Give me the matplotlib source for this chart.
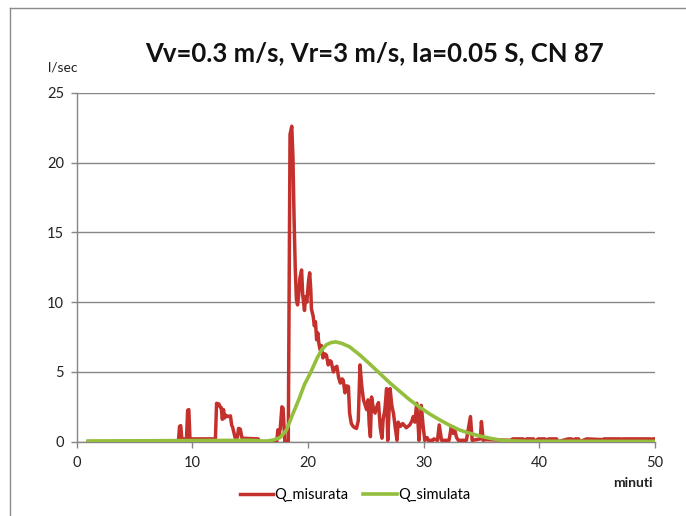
import matplotlib
matplotlib.use("Agg")
import matplotlib.pyplot as plt
from matplotlib.lines import Line2D

plt.rcParams['font.family'] = ['Lato', 'DejaVu Sans']

# Measured discharge (minutes, l/sec)
t_mis = [1.0, 8.8, 8.9, 9.0, 9.1, 9.5, 9.6, 9.7, 9.8, 12.0, 12.1, 12.3, 12.4, 12.5,
         12.6, 12.7, 12.8, 12.9, 13.1, 13.3, 13.4, 13.5, 13.7, 13.9, 14.0, 14.15,
         14.3, 15.7, 15.75, 17.3, 17.4, 17.5, 17.6, 17.75, 17.85, 18.0, 18.3, 18.45,
         18.6, 18.7, 18.8, 18.9, 19.0, 19.1, 19.2, 19.3, 19.45, 19.55, 19.7, 19.8,
         19.9, 20.05, 20.15, 20.25, 20.3, 20.45, 20.55, 20.65, 20.75, 20.85, 20.95,
         21.05, 21.15, 21.3, 21.45, 21.6, 21.75, 21.9, 22.0, 22.2, 22.35, 22.5, 22.65,
         22.8, 22.95, 23.05, 23.2, 23.35, 23.5, 23.6, 23.75, 23.9, 24.05, 24.2, 24.35,
         24.5, 24.65, 24.8, 24.95, 25.07, 25.2, 25.3, 25.4, 25.5, 25.65, 25.8, 25.95,
         26.1, 26.25, 26.4, 26.5, 26.65, 26.8, 26.9, 27.0, 27.1, 27.25, 27.4, 27.55,
         27.7, 27.8, 28.0, 28.2, 28.5, 28.8, 29.0, 29.1, 29.25, 29.4, 29.5, 29.6,
         29.8, 29.95, 30.1, 30.3, 30.4, 30.8, 30.9, 31.2, 31.35, 31.55, 32.2, 32.4,
         32.55, 32.7, 32.85, 33.0, 33.7, 34.05, 34.2, 34.9, 35.0, 35.15, 35.3, 37.6,
         37.7, 38.6, 38.7, 38.9, 39.5, 39.6, 39.9, 40.5, 40.6, 40.8, 41.5, 41.6, 42.5,
         42.8, 42.9, 43.1, 43.4, 43.5, 44.1, 45.5, 45.6, 47.0, 47.1, 47.2, 49.6, 49.7,
         49.8, 50.0]
q_mis = [0.0, 0.0, 1.1, 1.15, 0.2, 0.2, 2.25, 2.3, 0.2, 0.2, 2.75, 2.7, 2.5, 2.45,
         1.6, 2.3, 1.7, 1.9, 1.8, 1.85, 1.2, 1.0, 0.3, 0.3, 0.95, 0.9,
         0.25, 0.2, 0.0, 0.0, 0.85, 0.5, 0.9, 2.5, 2.4, 0.0, 0.0, 22.0,
         22.6, 20.5, 16.0, 12.5, 10.2, 9.8, 10.5, 11.7, 12.3, 10.5, 9.4, 10.4,
         10.0, 11.5, 12.1, 10.8, 9.5, 9.0, 8.3, 8.6, 7.3, 7.8, 7.0,
         6.6, 6.9, 6.0, 6.3, 6.2, 5.5, 5.8, 5.75, 5.0, 5.3, 5.4, 4.6,
         4.2, 4.5, 4.4, 3.5, 4.0, 3.95, 2.05, 1.3, 1.1, 1.0, 0.95, 1.5,
         5.5, 4.0, 3.0, 2.6, 2.3, 3.0, 1.2, 0.36, 3.2, 2.4, 2.05, 2.5,
         2.8, 1.0, 0.25, 1.6, 2.3, 3.8, 0.1, 2.0, 3.8, 2.6, 2.0, 1.0,
         0.1, 1.4, 1.1, 1.3, 1.0, 1.2, 1.5, 1.8, 1.4, 2.75, 1.6, 0.1,
         2.6, 1.2, 0.1, 0.3, 0.1, 0.1, 0.2, 0.1, 1.2, 0.1, 0.1, 1.1,
         0.6, 0.8, 0.3, 0.1, 0.1, 1.8, 0.1, 0.2, 1.44, 0.1, 0.15, 0.1,
         0.2, 0.2, 0.0, 0.2, 0.2, 0.0, 0.2, 0.2, 0.0, 0.2, 0.2, 0.0, 0.2,
         0.2, 0.0, 0.2, 0.2, 0.0, 0.2, 0.15, 0.2, 0.2, 0.1, 0.2, 0.2, 0.0,
         0.2, 0.2]

# Simulated discharge (minutes, l/sec)
t_sim = [1.0, 10.0, 15.0, 15.5, 16.0, 16.5, 17.0, 17.6, 18.15, 18.6, 19.2, 19.7,
         20.2, 20.8, 21.2, 21.6, 22.0, 22.4, 22.9, 23.6, 24.5, 25.3, 26.2, 27.1,
         27.95, 28.8, 29.7, 30.5, 31.4, 32.2, 33.1, 34.0, 34.9, 35.7, 36.6, 37.5,
         39.0, 50.0]
q_sim = [0.05, 0.08, 0.1, 0.08, 0.05, 0.05, 0.12, 0.3, 0.85, 1.8, 3.0, 4.1,
         4.9, 6.0, 6.6, 6.95, 7.1, 7.15, 7.05, 6.8, 6.2, 5.6, 4.9, 4.2,
         3.6, 3.0, 2.45, 2.0, 1.56, 1.2, 0.84, 0.6, 0.4, 0.25, 0.12, 0.06,
         0.03, 0.02]

x_ticks = [0, 10, 20, 30, 40, 50]
y_ticks = [0, 5, 10, 15, 20, 25]

red = '#C4302B'
green = '#93BF3C'
grey = '#868686'

fig = plt.figure(figsize=(6.86, 5.16), dpi=100)
ax = fig.add_axes([0.1117, 0.144, 0.843, 0.6763])

l1, = ax.plot(t_mis, q_mis, color=red, lw=2.5, solid_joinstyle='round', label='Q_misurata', zorder=3)
l2, = ax.plot(t_sim, q_sim, color=green, lw=2.6, solid_joinstyle='round', label='Q_simulata', zorder=4)

ax.set_xlim(0, 50)
ax.set_ylim(0, 25)
ax.set_xticks(x_ticks)
ax.set_yticks(y_ticks)
ax.yaxis.grid(True, color=grey, lw=1)
ax.set_axisbelow(True)
for s in ['top', 'right']:
    ax.spines[s].set_visible(False)
for s in ['left', 'bottom']:
    ax.spines[s].set_color(grey)
    ax.spines[s].set_linewidth(1)
ax.tick_params(axis='both', colors=grey, length=4, width=1, direction='out',
               labelsize=10.5, labelcolor='#222222')
ax.tick_params(axis='x', pad=6)
ax.tick_params(axis='y', pad=5)

fig.text(375 / 686, 1 - 53 / 516, 'Vv=0.3 m/s, Vr=3 m/s, Ia=0.05 S, CN 87',
         ha='center', va='center', fontsize=18.5, weight='bold', color='#111111')
fig.text(63 / 686, 1 - 67 / 516, 'l/sec', ha='center', va='center', fontsize=10, color='#222222')
fig.text(653 / 686, 1 - 483 / 516, 'minuti', ha='right', va='center', fontsize=10,
         weight='bold', color='#222222')

fig.legend(handles=[l1, l2], loc='center', bbox_to_anchor=(355 / 686, 1 - 495 / 516),
           ncol=2, frameon=False, fontsize=10.5, handlelength=2.3, handletextpad=0.1,
           columnspacing=1.0)

# Outer chart border (top and left edges visible)
fig.add_artist(Line2D([10 / 686, 1.0], [1 - 8 / 516, 1 - 8 / 516], color='#8a8a8a', lw=1))
fig.add_artist(Line2D([10 / 686, 10 / 686], [0.0, 1 - 8 / 516], color='#8a8a8a', lw=1))

fig.savefig('out.png', dpi=100, facecolor='white')
